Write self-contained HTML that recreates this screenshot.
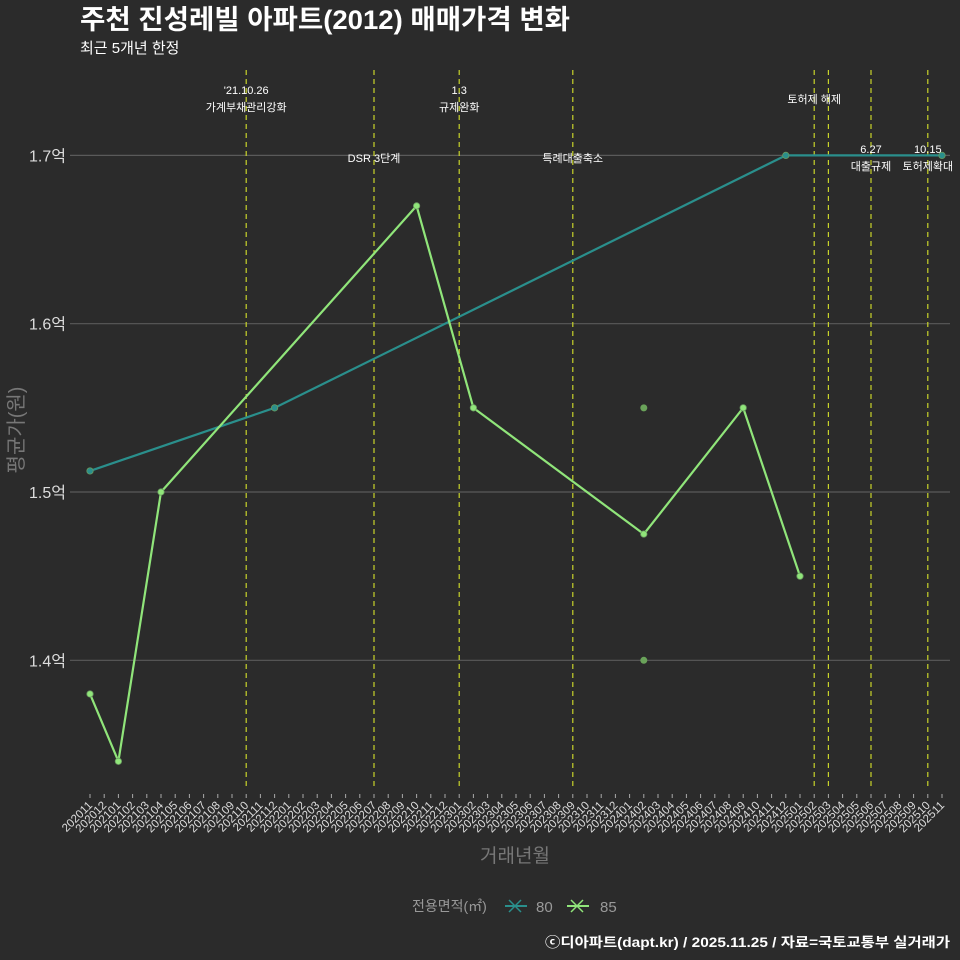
<!DOCTYPE html>
<html><head><meta charset="utf-8">
<style>
html,body{margin:0;padding:0;background:#2b2b2b;}
svg{display:block;font-family:"Liberation Sans","Noto Sans CJK KR",sans-serif;}
</style></head>
<body>
<svg id="chart" width="960" height="960" viewBox="0 0 960 960">
<rect width="960" height="960" fill="#2b2b2b"/>
<text x="80" y="29" font-size="27" font-weight="bold" fill="#ffffff" textLength="490" lengthAdjust="spacingAndGlyphs">주천 진성레빌 아파트(2012) 매매가격 변화</text>
<text x="80" y="53" font-size="15" fill="#ffffff">최근 5개년 한정</text>
<g id="grid"></g><g id="vlines"></g><g id="series"></g><g id="xaxis"></g><g id="ann"></g>
<text x="23" y="430" font-size="20" fill="#777" text-anchor="middle" transform="rotate(-90 23 430)">평균가(원)</text>
<text x="515" y="862" font-size="19" fill="#777" text-anchor="middle">거래년월</text>
<g>
<text x="412" y="911" font-size="14" fill="#999">전용면적(㎡)</text>
<g><line x1="505" y1="906" x2="527" y2="906" stroke="#2a8f8c" stroke-width="2"/><line x1="509" y1="900" x2="521" y2="912" stroke="#2a8f8c" stroke-width="1.5"/><line x1="509" y1="912" x2="521" y2="900" stroke="#2a8f8c" stroke-width="1.5"/><text x="536" y="912" font-size="15" fill="#999">80</text></g>
<g><line x1="567" y1="906" x2="589" y2="906" stroke="#90e57a" stroke-width="2"/><line x1="571" y1="900" x2="583" y2="912" stroke="#90e57a" stroke-width="1.5"/><line x1="571" y1="912" x2="583" y2="900" stroke="#90e57a" stroke-width="1.5"/><text x="600" y="912" font-size="15" fill="#999">85</text></g>
</g>
<text x="950" y="947" font-size="13.5" font-weight="bold" fill="#ffffff" text-anchor="end" textLength="405" lengthAdjust="spacingAndGlyphs">ⓒ디아파트(dapt.kr) / 2025.11.25 / 자료=국토교통부 실거래가</text>
</svg>
<script>
const months=[];
for(let y=2020,m=11;!(y===2025&&m===12);){months.push(y+String(m).padStart(2,'0'));m++;if(m>12){m=1;y++;}}
const yTicks=[1.4,1.5,1.6,1.7];
const yTickLabels=["1.4억","1.5억","1.6억","1.7억"];
const s80Months=["202011","202112","202412","202511"];
const s80Values=[1.5125,1.55,1.7,1.7];
const s85Months=["202011","202101","202104","202210","202302","202402","202409","202501"];
const s85Values=[1.38,1.34,1.5,1.67,1.55,1.475,1.55,1.45];
const extraMonths=["202402","202402"];
const extraValues=[1.55,1.40];
const eventMonths=["202110","202207","202301","202309","202502","202503","202506","202510"];
const eventLabels=[["'21.10.26","가계부채관리강화"],["DSR 3단계"],["1.3","규제완화"],["특례대출축소"],["토허제 해제"],[],["6.27","대출규제"],["10.15","토허제확대"]];
const eventLabelY=[94,162,94,162,103,0,153,153];

const NS="http://www.w3.org/2000/svg";
const X=m=>90+months.indexOf(m)*14.2;
const Y=v=>492-(v-1.5)*1683;
function el(tag,attrs,parent){const e=document.createElementNS(NS,tag);for(const k in attrs)e.setAttribute(k,attrs[k]);parent.appendChild(e);return e;}
const grid=document.getElementById('grid'),vl=document.getElementById('vlines'),ser=document.getElementById('series'),xa=document.getElementById('xaxis'),ann=document.getElementById('ann');
yTicks.forEach((v,i)=>{
 const l=el('line',{x1:70,x2:950,y1:Y(v),y2:Y(v),stroke:'#5a5a5a','stroke-width':1.2},grid);
 
 
 const t=el('text',{x:66,y:Y(v)+6,'font-size':16,fill:'#dddddd','text-anchor':'end'},grid);
 t.textContent=yTickLabels[i];
 
 
});
eventMonths.forEach((m,i)=>{
 const l=el('line',{x1:X(m),x2:X(m),y1:70,y2:790,stroke:'#c8d42a','stroke-width':1.2,'stroke-dasharray':'5,4'},vl);
 
 
 eventLabels[i].forEach((s,j)=>{
  const t=el('text',{x:X(m),y:eventLabelY[i]+j*17,'font-size':11,fill:'#ffffff','text-anchor':'middle'},ann);
  t.textContent=s;
  
  
 });
});
function line(ms,vs,color,name){
 const p=el('polyline',{points:ms.map((m,i)=>X(m)+','+Y(vs[i])).join(' '),fill:'none',stroke:color,'stroke-width':2.2},ser);
 
 
 ms.forEach((m,i)=>{
  const c=el('circle',{cx:X(m),cy:Y(vs[i]),r:3.2,fill:color,stroke:'#6a9a60','stroke-width':0.8},ser);
  
  
 });
}
line(s80Months,s80Values,'#2a8f8c','series-80');
line(s85Months,s85Values,'#90e57a','series-85');
extraMonths.forEach((m,i)=>{
 const c=el('circle',{cx:X(m),cy:Y(extraValues[i]),r:3.5,fill:'#6aa35a'},ser);
 
 
});
months.forEach(m=>{
 const x=X(m);
 const tk=el('line',{x1:x,x2:x,y1:794,y2:798,stroke:'#aaa','stroke-width':1},xa);
 
 
 const t=el('text',{x:x+3,y:806,'font-size':11.5,fill:'#dddddd','text-anchor':'end',transform:`rotate(-45 ${x+3} 806)`},xa);
 t.textContent=m;
 
 
});
</script>
</body></html>
